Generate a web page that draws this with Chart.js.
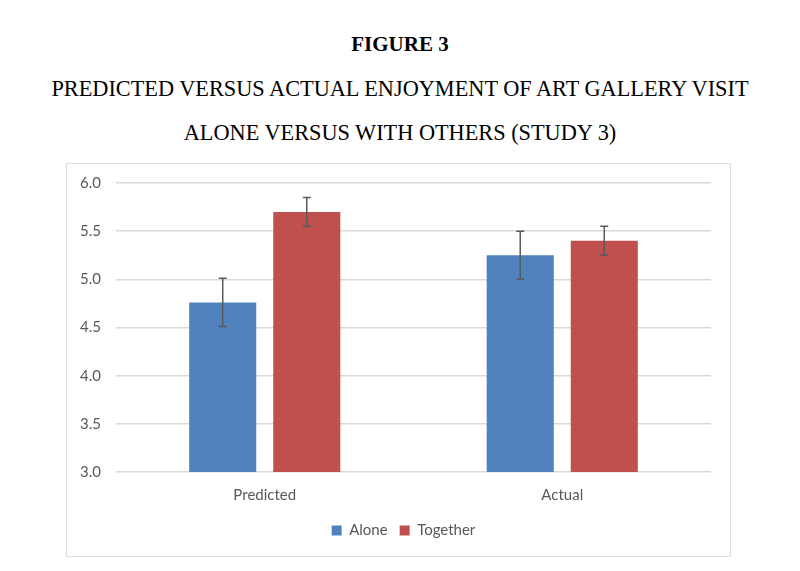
<!DOCTYPE html>
<html>
<head>
<meta charset="utf-8">
<script src="https://cdn.jsdelivr.net/npm/chart.js@4.4.0/dist/chart.umd.min.js"></script>
<style>
  html, body { margin:0; padding:0; background:#fff; width:800px; height:571px; overflow:hidden; }
  .t { position:absolute; left:0; width:800px; text-align:center; font-family:"Liberation Serif","Times New Roman",serif; font-size:22.3px; color:#000; line-height:1; }
  #box { position:absolute; left:66px; top:163px; width:665px; height:394px; box-sizing:border-box; border:1px solid #dcdcdc; }
  #wrap { position:absolute; left:0; top:0; width:663px; height:392px; }
</style>
</head>
<body>
<div class="t" style="top:34px;font-weight:bold;font-size:21px;">FIGURE 3</div>
<div class="t" style="top:78px;">PREDICTED VERSUS ACTUAL ENJOYMENT OF ART GALLERY VISIT</div>
<div class="t" style="top:122px;">ALONE VERSUS WITH OTHERS (STUDY 3)</div>
<div id="box"><div id="wrap"><canvas id="c"></canvas></div></div>
<script>
const categories = ['Predicted', 'Actual'];
const seriesNames = ['Alone', 'Together'];
const aloneValues = [4.76, 5.25];
const togetherValues = [5.70, 5.40];
const aloneErrors = [0.25, 0.25];
const togetherErrors = [0.15, 0.15];
const yMin = 3.0, yMax = 6.0, yStep = 0.5;

const errorsBySeries = [aloneErrors, togetherErrors];

const errorBarPlugin = {
  id: 'errorBars',
  afterDatasetsDraw(chart) {
    const ctx = chart.ctx;
    const yScale = chart.scales.y;
    chart.data.datasets.forEach((ds, i) => {
      const meta = chart.getDatasetMeta(i);
      const errs = errorsBySeries[i];
      meta.data.forEach((bar, j) => {
        const v = ds.data[j];
        const e = errs[j];
        const yHi = yScale.getPixelForValue(v + e);
        const yLo = yScale.getPixelForValue(v - e);
        const x = bar.x;
        ctx.save();
        ctx.strokeStyle = '#5a5a5a';
        ctx.lineWidth = 1.5;
        ctx.beginPath();
        ctx.moveTo(x, yHi); ctx.lineTo(x, yLo);
        ctx.moveTo(x - 4, yHi); ctx.lineTo(x + 4, yHi);
        ctx.moveTo(x - 4, yLo); ctx.lineTo(x + 4, yLo);
        ctx.stroke();
        ctx.restore();
      });
    });
  }
};

// nudge the legend block slightly left, as in the reference
const legendShift = {
  id: 'legendShift',
  afterLayout(chart) {
    if (chart.legend) { chart.legend.left -= 10; chart.legend.right -= 10; }
  }
};

const font = { family: 'Lato, "Open Sans", sans-serif', size: 15 };

new Chart(document.getElementById('c'), {
  type: 'bar',
  data: {
    labels: categories,
    datasets: [
      { label: seriesNames[0], data: aloneValues, backgroundColor: '#4F81BD' },
      { label: seriesNames[1], data: togetherValues, backgroundColor: '#C0504D' }
    ]
  },
  options: {
    responsive: true,
    maintainAspectRatio: false,
    animation: false,
    categoryPercentage: 0.565,
    barPercentage: 0.798,
    layout: { padding: { top: 19, right: 19, left: 0, bottom: 8 } },
    plugins: {
      legend: {
        position: 'bottom',
        fullSize: false,
        labels: { boxWidth: 10, boxHeight: 10, color: '#595959', font: font, padding: 12 }
      },
      tooltip: { enabled: false }
    },
    scales: {
      x: {
        grid: { display: false },
        border: { display: false },
        ticks: { color: '#595959', font: font, padding: 6 },
        afterFit(s) { s.height = 39; }
      },
      y: {
        min: yMin, max: yMax,
        ticks: { stepSize: yStep, color: '#595959', font: font, padding: 15,
                 callback: v => Number(v).toFixed(1) },
        grid: { color: '#d9d9d9', lineWidth: 1.5, drawTicks: false },
        border: { display: false },
        afterFit(s) { s.width = 49; s.paddingTop = 0; s.paddingBottom = 0; }
      }
    }
  },
  plugins: [errorBarPlugin, legendShift]
});
</script>
</body>
</html>
